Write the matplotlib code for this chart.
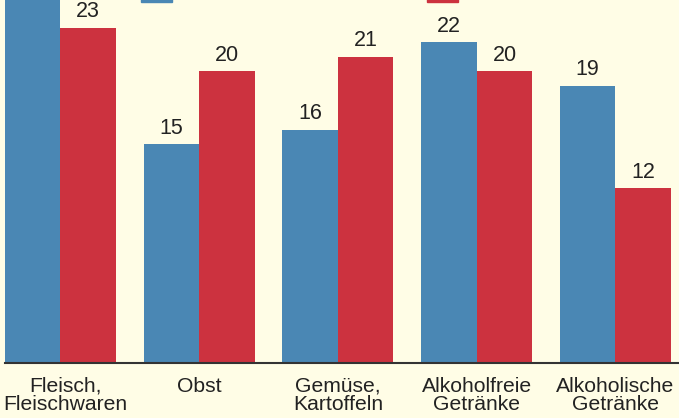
import numpy as np
import matplotlib.pyplot as plt
import matplotlib.transforms as mtransforms
from matplotlib.patches import Rectangle

# data
categories = ["Fleisch,\nFleischwaren", "Obst", "Gemüse,\nKartoffeln",
              "Alkoholfreie\nGetränke", "Alkoholische\nGetränke"]
blue_vals = [26, 15, 16, 22, 19]
red_vals = [23, 20, 21, 20, 12]

blue = "#4a87b4"
red = "#cc323f"
bg = "#fffde6"
txt = "#222222"

plt.rcParams['font.family'] = ['Liberation Sans', 'DejaVu Sans']

fig = plt.figure(figsize=(6.79, 4.18), dpi=100, facecolor=bg)
ax = fig.add_axes([5/679, 55/418, 674/679, 363/418], facecolor=bg)

x = np.arange(len(categories))
w = 0.4
b1 = ax.bar(x - w/2, blue_vals, w, color=blue)
b2 = ax.bar(x + w/2, red_vals, w, color=red)
ax.bar_label(b1, padding=4, fontsize=15.5, color=txt)
ax.bar_label(b2, padding=4, fontsize=15.5, color=txt)

ax.set_xlim(-0.4, 4.458)
ax.set_ylim(0, 24.9)
ax.set_xticks(x)
ax.set_xticklabels(categories, fontsize=15.2, color=txt, linespacing=0.95)
ax.tick_params(axis='x', length=0, pad=10)
ax.set_yticks([])
for s in ["top", "left", "right"]:
    ax.spines[s].set_visible(False)
ax.spines["bottom"].set_color("#333333")
ax.spines["bottom"].set_linewidth(1.5)

# first label sits a little to the right so it stays inside the picture
first = ax.get_xticklabels()[0]
first.set_transform(first.get_transform() +
                    mtransforms.ScaledTranslation(5/100, 0, fig.dpi_scale_trans))

# legend keys, cut off at the top edge
fig.add_artist(Rectangle((141/679, 1 - 2/418), 31/679, 10/418, color=blue,
                         transform=fig.transFigure))
fig.add_artist(Rectangle((427/679, 1 - 2/418), 31/679, 10/418, color=red,
                         transform=fig.transFigure))

plt.savefig("out.png", dpi=100, facecolor=bg)
